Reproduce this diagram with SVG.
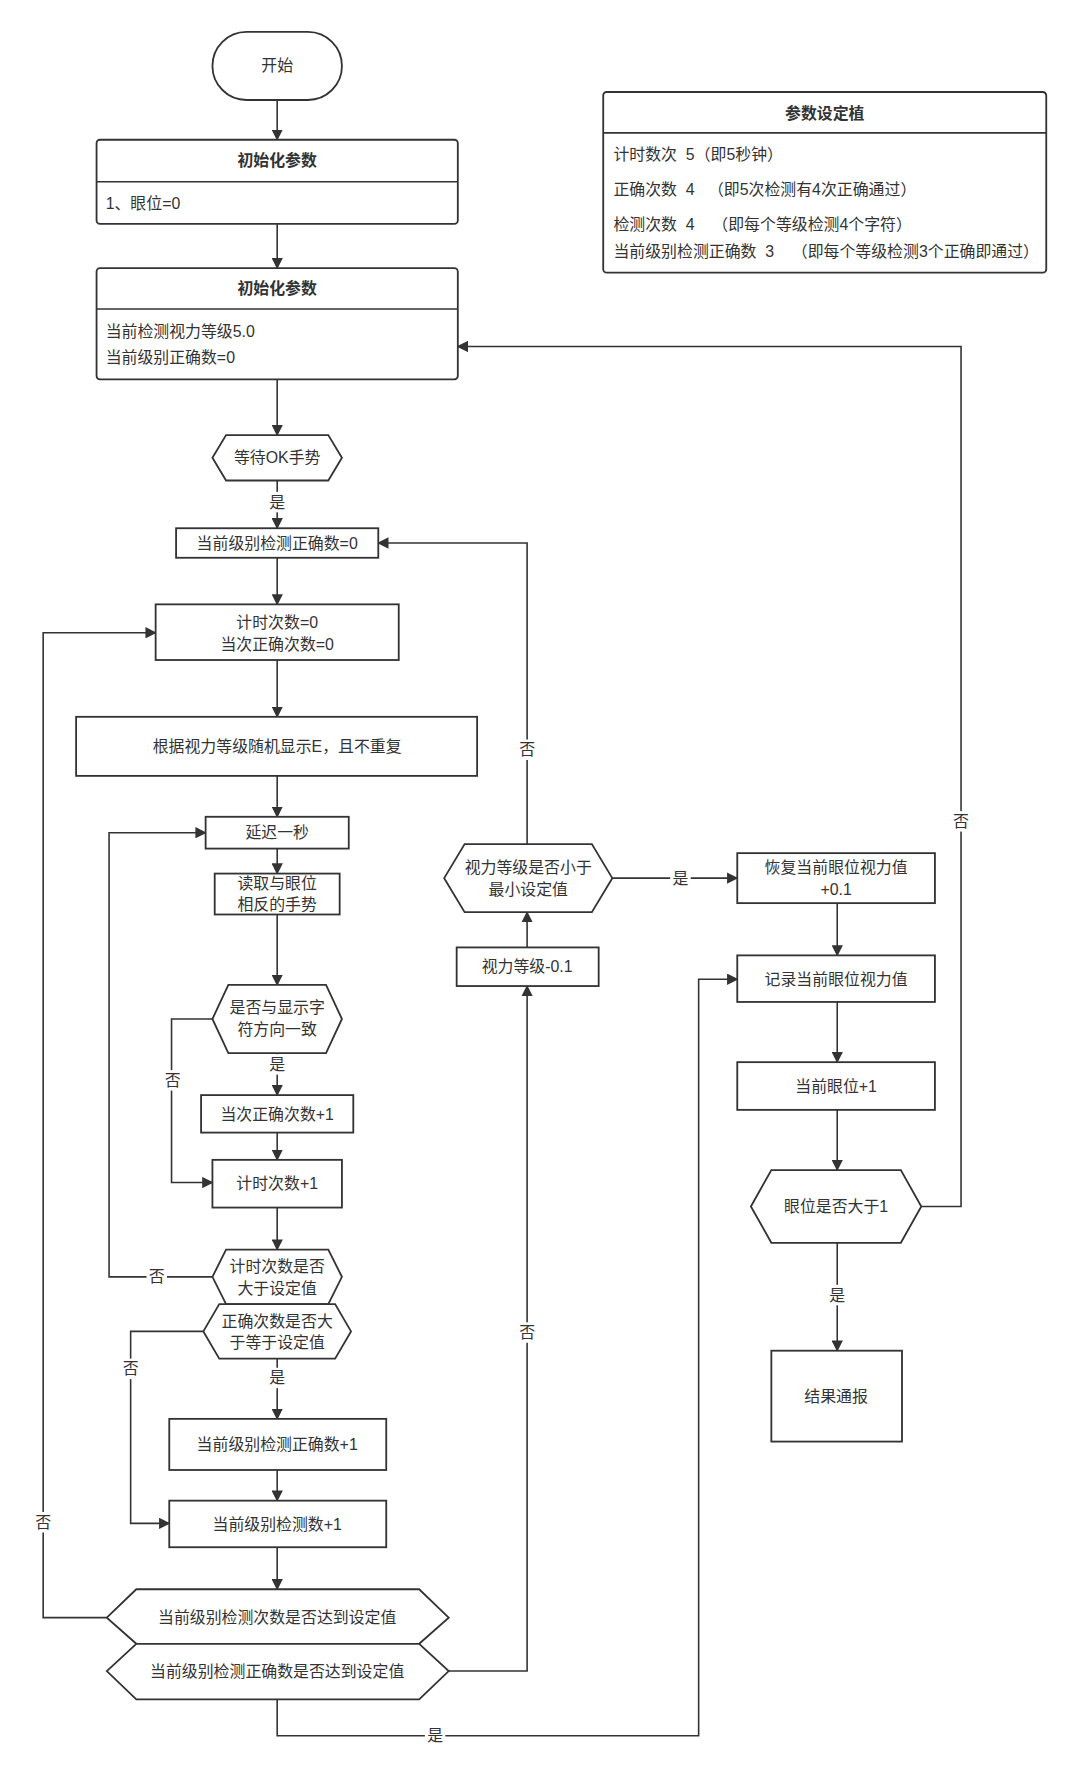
<svg xmlns="http://www.w3.org/2000/svg" width="1080" height="1782" viewBox="0 0 1080 1782">
<style>
.s{fill:#fff;stroke:#333;stroke-width:1.6}
.t{font-family:"Liberation Sans","Noto Sans CJK SC",sans-serif;font-size:14px;fill:#333;text-anchor:middle;dominant-baseline:central;white-space:pre}
.l{text-anchor:start}
.b{font-weight:bold}
.c{fill:none;stroke:#333;stroke-width:1.4}
.lb{fill:#fff}
</style>
<defs><marker id="a" markerWidth="10" markerHeight="10" refX="9" refY="5" orient="auto" markerUnits="userSpaceOnUse"><path d="M0,0 L10,5 L0,10 Z" fill="#333"/></marker></defs>
<rect width="1080" height="1782" fill="#fff"/>
<g transform="scale(1.136)">
<g id="connectors">
<path class="c" marker-end="url(#a)" d="M244,88 V123"/>
<path class="c" marker-end="url(#a)" d="M244,197 V236"/>
<path class="c" marker-end="url(#a)" d="M244,334 V383"/>
<path class="c" marker-end="url(#a)" d="M244,423 V465"/>
<path class="c" marker-end="url(#a)" d="M244,491 V532"/>
<path class="c" marker-end="url(#a)" d="M244,581 V631"/>
<path class="c" marker-end="url(#a)" d="M244,683 V719"/>
<path class="c" marker-end="url(#a)" d="M244,747 V769"/>
<path class="c" marker-end="url(#a)" d="M244,805 V867"/>
<path class="c" marker-end="url(#a)" d="M244,927 V964"/>
<path class="c" marker-end="url(#a)" d="M244,997 V1021"/>
<path class="c" marker-end="url(#a)" d="M187,897 H151 V1041 H187"/>
<path class="c" marker-end="url(#a)" d="M244,1063 V1100"/>
<path class="c" marker-end="url(#a)" d="M187,1124 H96 V733 H181"/>
<path class="c" marker-end="url(#a)" d="M244,1196 V1249"/>
<path class="c" marker-end="url(#a)" d="M179,1172 H115 V1341 H149"/>
<path class="c" marker-end="url(#a)" d="M244,1294 V1321"/>
<path class="c" marker-end="url(#a)" d="M244,1362 V1399"/>
<path class="c" marker-end="url(#a)" d="M94,1424 H38 V557 H137"/>
<path class="c" marker-end="url(#a)" d="M395,1471 H464 V868"/>
<path class="c" marker-end="url(#a)" d="M244,1496 V1528 H615 V862 H649"/>
<path class="c" marker-end="url(#a)" d="M464,834 V803"/>
<path class="c" marker-end="url(#a)" d="M464,743 V478 H333"/>
<path class="c" marker-end="url(#a)" d="M539,773 H649"/>
<path class="c" marker-end="url(#a)" d="M737,795 V841"/>
<path class="c" marker-end="url(#a)" d="M737,882 V935"/>
<path class="c" marker-end="url(#a)" d="M737,977 V1030"/>
<path class="c" marker-end="url(#a)" d="M811,1062 H846 V305 H403"/>
<path class="c" marker-end="url(#a)" d="M737,1094 V1189"/>
<rect class="lb" x="235" y="433" width="18" height="18"/><text class="t" x="244" y="442">是</text>
<rect class="lb" x="235" y="928" width="18" height="18"/><text class="t" x="244" y="937">是</text>
<rect class="lb" x="143" y="942" width="18" height="18"/><text class="t" x="152" y="951">否</text>
<rect class="lb" x="129" y="1115" width="18" height="18"/><text class="t" x="138" y="1124">否</text>
<rect class="lb" x="106" y="1196" width="18" height="18"/><text class="t" x="115" y="1205">否</text>
<rect class="lb" x="235" y="1204" width="18" height="18"/><text class="t" x="244" y="1213">是</text>
<rect class="lb" x="29" y="1331" width="18" height="18"/><text class="t" x="38" y="1340">否</text>
<rect class="lb" x="455" y="1164" width="18" height="18"/><text class="t" x="464" y="1173">否</text>
<rect class="lb" x="374" y="1519" width="18" height="18"/><text class="t" x="383" y="1528">是</text>
<rect class="lb" x="455" y="651" width="18" height="18"/><text class="t" x="464" y="660">否</text>
<rect class="lb" x="590" y="764" width="18" height="18"/><text class="t" x="599" y="773">是</text>
<rect class="lb" x="837" y="714" width="18" height="18"/><text class="t" x="846" y="723">否</text>
<rect class="lb" x="728" y="1131" width="18" height="18"/><text class="t" x="737" y="1140">是</text>
</g>
<g id="start"><rect class="s" x="187" y="28" width="114" height="60" rx="30"/><text class="t" x="244" y="58">开始</text></g>
<g id="init1"><rect class="s" x="85" y="123" width="318" height="74" rx="3"/><line class="c" x1="85" y1="160" x2="403" y2="160"/><text class="t b" x="244" y="141">初始化参数</text><text class="t l" x="93" y="179">1、眼位=0</text></g>
<g id="init2"><rect class="s" x="85" y="236" width="318" height="98" rx="3"/><line class="c" x1="85" y1="272" x2="403" y2="272"/><text class="t b" x="244" y="254">初始化参数</text><text class="t l" x="93" y="292">当前检测视力等级5.0</text><text class="t l" x="93" y="315">当前级别正确数=0</text></g>
<g id="params"><rect class="s" x="531" y="81" width="390" height="159" rx="3"/><line class="c" x1="531" y1="117" x2="921" y2="117"/><text class="t b" x="726" y="100">参数设定植</text>
<text class="t l" x="540" y="136" xml:space="preserve">计时数次  5（即5秒钟）</text>
<text class="t l" x="540" y="167" xml:space="preserve">正确次数  4   （即5次检测有4次正确通过）</text>
<text class="t l" x="540" y="198" xml:space="preserve">检测次数  4    （即每个等级检测4个字符）</text>
<text class="t l" x="540" y="221" xml:space="preserve">当前级别检测正确数  3    （即每个等级检测3个正确即通过）</text></g>
<g id="waitok"><polygon class="s" points="187,403 199,383 289,383 301,403 289,423 199,423"/><text class="t" x="244" y="403">等待OK手势</text></g>
<g id="lvl0"><rect class="s" x="155" y="465" width="178" height="26"/><text class="t" x="244" y="478">当前级别检测正确数=0</text></g>
<g id="timer0"><rect class="s" x="137" y="532" width="214" height="49"/><text class="t" x="244" y="548">计时次数=0</text><text class="t" x="244" y="567">当次正确次数=0</text></g>
<g id="show"><rect class="s" x="67" y="631" width="353" height="52"/><text class="t" x="244" y="657">根据视力等级随机显示E，且不重复</text></g>
<g id="delay"><rect class="s" x="181" y="719" width="126" height="28"/><text class="t" x="244" y="733">延迟一秒</text></g>
<g id="read"><rect class="s" x="189" y="769" width="110" height="36"/><text class="t" x="244" y="778">读取与眼位</text><text class="t" x="244" y="796">相反的手势</text></g>
<g id="match"><polygon class="s" points="187,897 201,867 287,867 301,897 287,927 201,927"/><text class="t" x="244" y="887">是否与显示字</text><text class="t" x="244" y="906">符方向一致</text></g>
<g id="correct1"><rect class="s" x="177" y="964" width="134" height="33"/><text class="t" x="244" y="981">当次正确次数+1</text></g>
<g id="timer1"><rect class="s" x="187" y="1021" width="114" height="42"/><text class="t" x="244" y="1042">计时次数+1</text></g>
<g id="timergt"><polygon class="s" points="187,1124 199,1100 289,1100 301,1124 289,1148 199,1148"/><text class="t" x="244" y="1115">计时次数是否</text><text class="t" x="244" y="1134">大于设定值</text></g>
<g id="correctge"><polygon class="s" points="179,1172 193,1148 295,1148 309,1172 295,1196 193,1196"/><text class="t" x="244" y="1163">正确次数是否大</text><text class="t" x="244" y="1182">于等于设定值</text></g>
<g id="lvlcorrect1"><rect class="s" x="149" y="1249" width="191" height="45"/><text class="t" x="244" y="1272">当前级别检测正确数+1</text></g>
<g id="lvlcount1"><rect class="s" x="149" y="1321" width="191" height="41"/><text class="t" x="244" y="1342">当前级别检测数+1</text></g>
<g id="lvlcountreach"><polygon class="s" points="94,1424 120,1399 369,1399 395,1424 369,1447 120,1447"/><text class="t" x="244" y="1424">当前级别检测次数是否达到设定值</text></g>
<g id="lvlcorrectreach"><polygon class="s" points="94,1471 120,1447 369,1447 395,1471 369,1496 120,1496"/><text class="t" x="244" y="1471">当前级别检测正确数是否达到设定值</text></g>
<g id="minus"><rect class="s" x="402" y="834" width="125" height="34"/><text class="t" x="464" y="851">视力等级-0.1</text></g>
<g id="minchk"><polygon class="s" points="391,773 409,743 521,743 539,773 521,803 409,803"/><text class="t" x="465" y="764">视力等级是否小于</text><text class="t" x="465" y="783">最小设定值</text></g>
<g id="restore"><rect class="s" x="649" y="751" width="174" height="44"/><text class="t" x="736" y="764">恢复当前眼位视力值</text><text class="t" x="736" y="783">+0.1</text></g>
<g id="record"><rect class="s" x="649" y="841" width="174" height="41"/><text class="t" x="736" y="862">记录当前眼位视力值</text></g>
<g id="eyeplus"><rect class="s" x="649" y="935" width="174" height="42"/><text class="t" x="736" y="956">当前眼位+1</text></g>
<g id="eyechk"><polygon class="s" points="661,1062 679,1030 793,1030 811,1062 793,1094 679,1094"/><text class="t" x="736" y="1062">眼位是否大于1</text></g>
<g id="result"><rect class="s" x="679" y="1189" width="115" height="80"/><text class="t" x="736" y="1229">结果通报</text></g>
</g>
</svg>
